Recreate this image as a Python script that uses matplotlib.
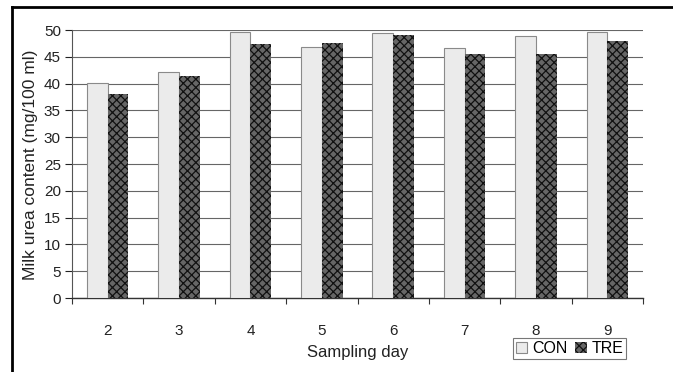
import matplotlib.pyplot as plt
import numpy as np
from matplotlib.lines import Line2D
from matplotlib.patches import Patch

plt.rcParams['font.family'] = ['Liberation Sans', 'DejaVu Sans']
plt.rcParams['hatch.linewidth'] = 0.9

# data
days = ['2', '3', '4', '5', '6', '7', '8', '9']
con = [40.1, 42.1, 49.6, 46.8, 49.4, 46.6, 48.8, 49.6]
tre = [38.1, 41.4, 47.3, 47.5, 49.0, 45.6, 45.6, 48.0]

fs = 11
fig = plt.figure(figsize=(6.73, 3.72), dpi=100)
ax = fig.add_axes([72 / 673, 1 - 298 / 372, (643 - 72) / 673, (298 - 30) / 372])

x = np.arange(len(days))
w = 0.29
ax.bar(x - w / 2, con, width=w, color='#ebebeb', edgecolor='#8a8a8a', linewidth=0.8, zorder=3)
ax.bar(x + w / 2, tre, width=w, color='#666666', edgecolor='#111111', hatch='xxxx', linewidth=0, zorder=3)

ax.set_xlim(-0.5, len(days) - 0.5)
ax.set_ylim(0, 50)
ax.set_yticks(np.arange(0, 51, 5))
ax.set_xticks(x)
ax.set_xticklabels(days)
ax.set_xticks(np.arange(-0.5, len(days)), minor=True)
ax.tick_params(axis='x', which='major', length=0, pad=19, labelsize=fs, colors='#222222')
ax.tick_params(axis='x', which='minor', length=4, width=0.8, direction='out', color='#333333')
ax.tick_params(axis='y', length=5, width=0.8, labelsize=fs, colors='#222222', pad=3)

ax.grid(axis='y', color='#666666', linewidth=0.8, zorder=0)
for s in ['top', 'right']:
    ax.spines[s].set_visible(False)
ax.spines['left'].set_color('#555555')
ax.spines['bottom'].set_color('#333333')
ax.spines['bottom'].set_linewidth(1.0)

ax.set_ylabel('Milk urea content (mg/100 ml)', fontsize=12.5, color='#222222')
ax.yaxis.set_label_coords((31 - 72) / 571, (298 - 165) / 268)
ax.set_xlabel('Sampling day', fontsize=12, color='#222222')
ax.xaxis.set_label_coords((358 - 72) / 571, (298 - 353) / 268)
ax.xaxis.label.set_va('center')
ax.yaxis.label.set_va('center')

handles = [Patch(facecolor='#ebebeb', edgecolor='#8a8a8a', linewidth=0.8, label='CON'),
           Patch(facecolor='#666666', edgecolor='#111111', hatch='xxxx', linewidth=0, label='TRE')]
leg = fig.legend(handles=handles, loc='lower left', bbox_to_anchor=(513 / 673, 1 - 359 / 372),
                 ncol=2, fontsize=11.5, frameon=True, fancybox=False, handlelength=0.7,
                 handleheight=0.7, handletextpad=0.3, columnspacing=0.5, borderpad=0.2,
                 borderaxespad=0)
leg.get_frame().set_edgecolor('#555555')
leg.get_frame().set_linewidth(0.8)

# black frame around the picture (partly cut off at right and bottom)
fig.add_artist(Line2D([12 / 673, 12 / 673], [0, 1 - 7 / 372], color='black', linewidth=2,
                      transform=fig.transFigure))
fig.add_artist(Line2D([12 / 673, 1], [1 - 7 / 372, 1 - 7 / 372], color='black', linewidth=2,
                      transform=fig.transFigure))

fig.savefig('out.png', dpi=100)
